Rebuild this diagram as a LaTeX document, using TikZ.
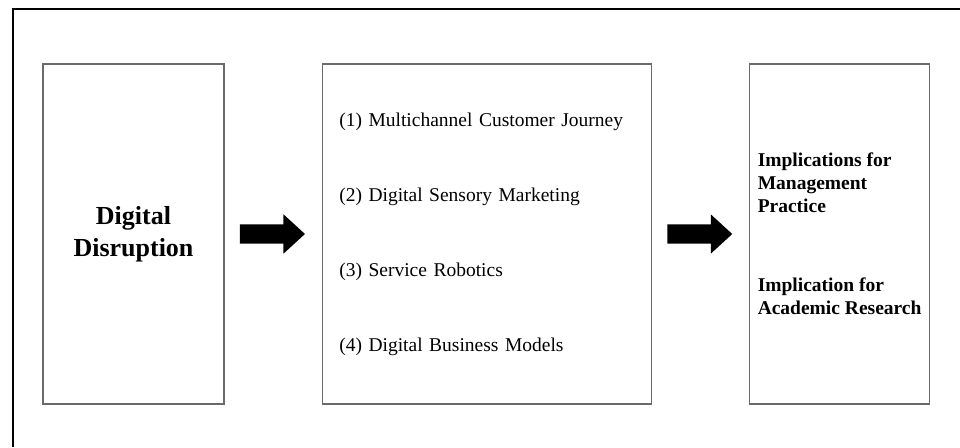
\documentclass[tikz,border=0pt]{standalone}
\usepackage{fontspec}
\setmainfont{Liberation Serif}
\usepackage{xcolor}
\usepackage{tikz}
\usetikzlibrary{positioning}
\usetikzlibrary{shapes.arrows}
\definecolor{boxgray}{HTML}{6A6A6A}
\tikzset {
  node distance={97pt},
  % plain rectangular stage box
  stage/.style = {draw=boxgray, line width=1.3pt, rectangle, minimum height=340pt},
  % the fat black arrows between stages
  bigarrow/.style={single arrow, fill=black, draw=none, minimum height=65pt,
    inner xsep=0pt, inner ysep=9.5pt, single arrow head extend=10pt,
    single arrow tip angle=85, xshift=-6pt},
  % outer frame
  frame/.style={black, line width=2pt},
}
\begin{document}
\begin{tikzpicture}[x=1pt, y=1pt]
        \useasboundingbox (0,0) rectangle (960,-447);
        \draw [frame] (13,-447) |- (960,-9);

        \node[stage, minimum width=181pt, align=center,
              font=\fontsize{26}{32}\selectfont\bfseries] (dd) at (133.5,-234)
              {Digital\\Disruption};
        \node[stage, text width=295pt, inner xsep=17pt, align=left,
              font=\fontsize{19.5}{75}\selectfont] (dev) [right=of dd]
              {(1) Multichannel Customer Journey\\(2) Digital Sensory Marketing\\(3) Service Robotics\\(4) Digital Business Models};
        \node[stage, minimum width=180pt, align=left,
              font=\fontsize{19.5}{23}\selectfont\bfseries] (impl) [right=of dev]
              {Implications for\\Management\\Practice\\[56pt]Implication for\\Academic Research};

        \path (dd) -- node[bigarrow] {} (dev);
        \path (dev) -- node[bigarrow] {} (impl);
      \end{tikzpicture}
\end{document}
